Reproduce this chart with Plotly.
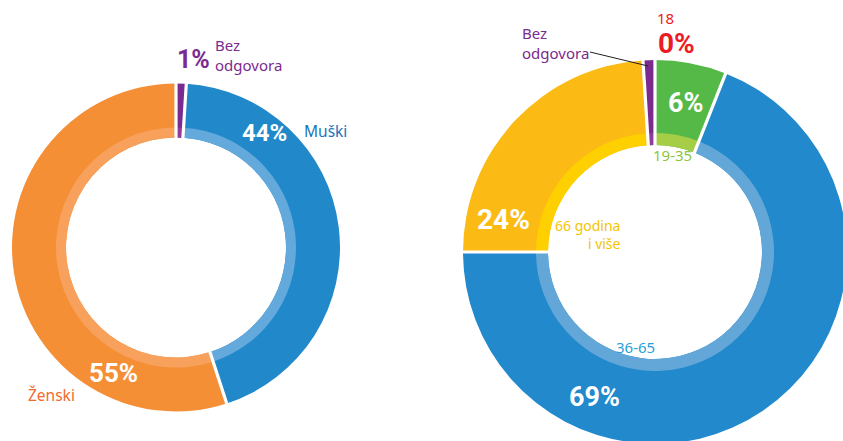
import math
import plotly.graph_objects as go

W, H = 843, 441          # visible window
FW, FH = 850, 448        # figure slightly larger so the right ring is clipped like the reference

# ---- data ----
gender_labels = ["Bez odgovora", "Muški", "Ženski"]
gender_values = [1, 44, 55]
gender_colors = ["#7A2B8F", "#2188CA", "#F58F36"]
gender_band = ["#93399B", "#63A9DC", "#F7A15C"]

age_labels = ["18", "19-35", "36-65", "66 godina i više", "Bez odgovora"]
age_values = [0, 6, 69, 24, 1]
age_colors = ["#ED1C24", "#55B947", "#2289CC", "#FBBA14", "#7B2A8E"]
age_band = ["#ED1C24", "#A5CD45", "#63A7D9", "#FFD000", "#8E3D98"]


def px2paper(px, py):
    return px / FW, 1 - py / FH


def dom(cx, cy, r):
    x0, y1 = px2paper(cx - r, cy - r)
    x1, y0 = px2paper(cx + r, cy + r)
    return dict(x=[max(0, x0), min(1, x1)], y=[max(0, y0), min(1, y1)])


def ring(labels, values, colors, cx, cy, r, hole):
    return go.Pie(
        labels=labels, values=values, sort=False, direction="clockwise",
        rotation=0, hole=hole, textinfo="none", hoverinfo="label+percent",
        marker=dict(colors=colors, line=dict(width=0)),
        domain=dom(cx, cy, r), showlegend=False,
    )


fig = go.Figure()

rings = [
    # (labels, values, colors, band colours, cx, cy, r_out, r_band, r_hole)
    (gender_labels, gender_values, gender_colors, gender_band, 176, 247.5, 164, 120, 110),
    (age_labels, age_values, age_colors, age_band, 655, 252, 192, 119, 107),
]

for labels, values, cols, band, cx, cy, ro, rb, rh in rings:
    fig.add_trace(ring(labels, values, cols, cx, cy, ro, rh / ro))
    fig.add_trace(ring(labels, values, band, cx, cy, rb, rh / rb))
    # white separators between slices, at the pie's own slice boundaries
    total = sum(values)
    cum = 0
    angles = set()
    for v in values:
        angles.add(round(cum / total, 6) % 1)
        cum += v
    for f in angles:
        th = 2 * math.pi * f
        x0, y0 = px2paper(cx + (rh - 3) * math.sin(th), cy - (rh - 3) * math.cos(th))
        x1, y1 = px2paper(cx + (ro + 3) * math.sin(th), cy - (ro + 3) * math.cos(th))
        fig.add_shape(type="line", xref="paper", yref="paper", x0=x0, y0=y0, x1=x1, y1=y1,
                      line=dict(color="white", width=3.2))

BOLD = "Roboto, Lato, sans-serif"
REG = "Noto Sans, Open Sans, sans-serif"


def ann(text, px, py, color, size, bold=False, align="center", xanchor="center"):
    x, y = px2paper(px, py)
    fig.add_annotation(
        x=x, y=y, xref="paper", yref="paper", text=text,
        showarrow=False, xanchor=xanchor, yanchor="middle", align=align,
        font=dict(family=BOLD if bold else REG, size=size, color=color),
    )


pct = lambda v: f"<b>{v}%</b>"

# left labels
ann(pct(gender_values[0]), 193, 59, "#7A2B8F", 25, True)
ann("Bez<br>odgovora", 213, 55, "#7A2B8F", 15, align="left", xanchor="left")
ann(pct(gender_values[1]), 264, 133, "white", 24, True)
ann(gender_labels[1], 302, 131, "#1E73B8", 15.5, xanchor="left")
ann(pct(gender_values[2]), 113, 373, "white", 26, True)
ann(gender_labels[2], 26, 395, "#F26B2F", 15.5, xanchor="left")

# right labels
ann(age_labels[0], 665, 18, "#ED1C24", 15)
ann(pct(age_values[0]), 676, 43, "#ED1C24", 28, True)
ann("Bez<br>odgovora", 520, 43, "#7B2A8E", 15, align="left", xanchor="left")
ann(pct(age_values[1]), 685, 103, "white", 27, True)
ann(age_labels[1], 672, 155, "#8DC63F", 15)
ann(pct(age_values[3]), 504, 219, "white", 28, True)
ann("66 godina<br>i više", 623, 234, "#F5C400", 14, align="right", xanchor="right")
ann(age_labels[2], 635, 347, "#29A1DC", 15)
ann(pct(age_values[2]), 594, 397, "white", 27, True)

# leader line for right "Bez odgovora"
lx0, ly0 = px2paper(590, 52)
lx1, ly1 = px2paper(648, 66)
fig.add_shape(type="line", xref="paper", yref="paper", x0=lx0, y0=ly0, x1=lx1, y1=ly1,
              line=dict(color="#231F20", width=1))

fig.update_layout(width=FW, height=FH, margin=dict(l=0, r=0, t=0, b=0),
                  paper_bgcolor="white", plot_bgcolor="white")

fig.write_html(
    "out.html",
    config={"displayModeBar": False},
    post_script="document.body.style.margin='0';document.body.style.overflow='hidden';"
                "document.documentElement.style.overflow='hidden';",
)
